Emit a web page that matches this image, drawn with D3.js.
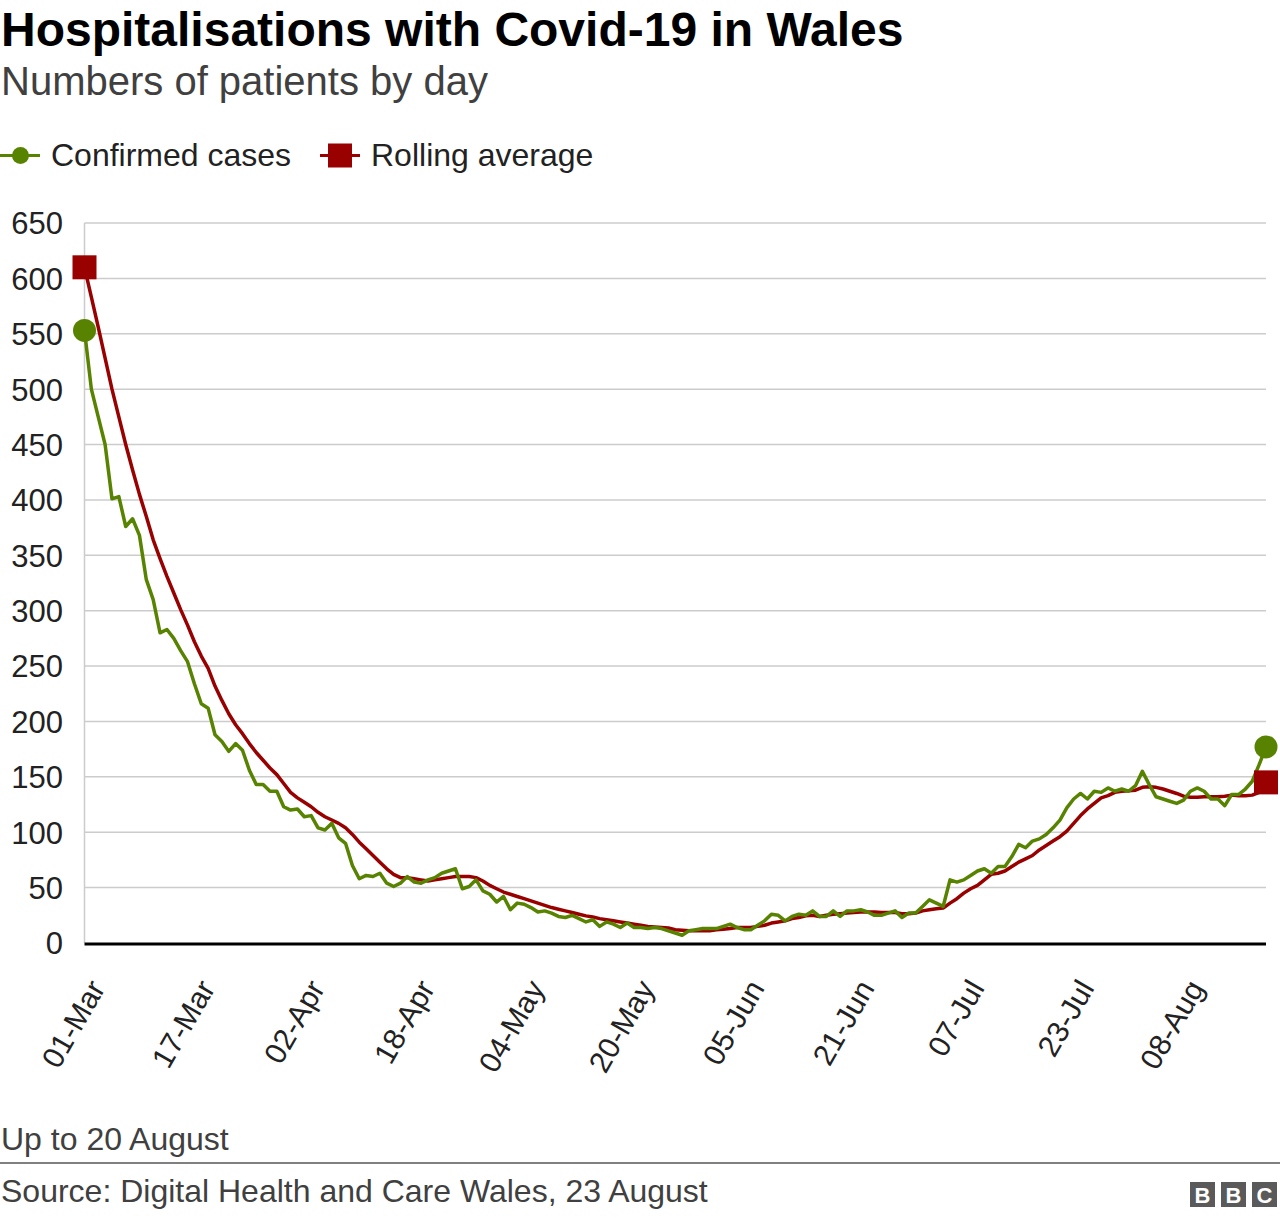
<!DOCTYPE html>
<html>
<head>
<meta charset="utf-8">
<script src="https://cdn.jsdelivr.net/npm/d3@7"></script>
<style>
  html, body { margin: 0; padding: 0; background: #fff; }
  svg { display: block; font-family: "Liberation Sans", Arial, Helvetica, sans-serif; }
</style>
</head>
<body>
<svg id="chart" width="1280" height="1218"></svg>
<script>
const startDate = "2020-03-01";
const endDate = "2020-08-20";

const confirmed = [
  553, 500, 475, 450, 401, 403, 376, 383, 368, 328,
  310, 280, 283, 275, 264, 254, 234, 216, 212, 188,
  182, 173, 180, 174, 156, 143, 143, 137, 137, 123,
  120, 121, 114, 115, 104, 102, 108, 95, 90, 70,
  58, 61, 60, 63, 54, 51, 54, 60, 55, 54,
  57, 59, 63, 65, 67, 49, 51, 57, 47, 44,
  37, 42, 30, 36, 35, 32, 28, 29, 27, 24,
  23, 25, 22, 19, 21, 15, 19, 17, 14, 18,
  14, 14, 13, 14, 13, 11, 9, 7, 11, 12,
  13, 13, 13, 15, 17, 14, 12, 12, 16, 20,
  26, 25, 20, 24, 26, 25, 29, 24, 24, 29,
  24, 29, 29, 30, 28, 25, 25, 27, 29, 23,
  27, 27, 33, 39, 36, 33, 57, 55, 57, 61,
  65, 67, 63, 69, 69, 78, 89, 86, 92, 94,
  98, 104, 111, 122, 130, 135, 130, 137, 136, 140,
  137, 139, 137, 142, 155, 143, 132, 130, 128, 126,
  129, 137, 140, 137, 130, 130, 124, 134, 134, 139,
  146, 161, 177
];

const rolling = [
  610, 583, 556, 528, 500, 475, 450, 427, 405, 385,
  364, 347, 331, 316, 301, 287, 272, 259, 248, 232,
  219, 207, 197, 189, 180, 172, 165, 158, 152, 144,
  136, 131, 127, 123, 118, 114, 111, 108, 104, 98,
  91, 85, 79, 73, 67, 62, 59, 59, 58, 57,
  56, 57, 58, 59, 60, 60, 60, 59, 56, 52,
  49, 46, 44, 42, 40, 38, 36, 34, 32, 30.5,
  29, 27.5, 26, 24.5, 23.5, 22, 21, 20, 19, 18,
  17, 16, 15, 14.5, 14, 13.5, 12, 11.5, 11, 11,
  11, 11, 12, 12.5, 13, 14, 14, 14, 15, 16,
  18, 19, 20, 22, 23, 24.5, 25, 24, 25, 26,
  26.5, 27, 27.5, 28, 28, 28, 27.5, 27.5, 27.5, 26.5,
  26.5, 27, 29, 30, 31, 31.5, 36, 40, 45, 49,
  52, 57, 62, 63, 65, 69, 73, 76, 79, 84,
  88, 92, 96, 101, 108, 115, 121, 126, 131, 133,
  136, 137, 137.5, 138, 140.5, 141, 140.5, 139, 137, 135,
  132.5, 131.5, 131.5, 132, 132, 132, 132.5, 133.5, 133, 133,
  133.5, 136, 145
];

const xTickLabels = ["01-Mar", "17-Mar", "02-Apr", "18-Apr", "04-May", "20-May",
                     "05-Jun", "21-Jun", "07-Jul", "23-Jul", "08-Aug"];
const yTickValues = [0, 50, 100, 150, 200, 250, 300, 350, 400, 450, 500, 550, 600, 650];

const seriesNames = ["Confirmed cases", "Rolling average"];
const colors = { green: "#588300", red: "#990000" };

const parseISO = d3.timeParse("%Y-%m-%d");
const parseTick = d3.timeParse("%d-%b-%Y");
const start = parseISO(startDate);
const end = parseISO(endDate);
const dates = confirmed.map((_, i) => d3.timeDay.offset(start, i));

const svg = d3.select("#chart");

// Titles
svg.append("text").attr("x", 1).attr("y", 46)
  .attr("font-size", 48).attr("font-weight", "bold").attr("fill", "#000")
  .text("Hospitalisations with Covid-19 in Wales");
svg.append("text").attr("x", 1).attr("y", 95)
  .attr("font-size", 40).attr("fill", "#404040")
  .text("Numbers of patients by day");

// Legend
const lg = svg.append("g");
lg.append("line").attr("x1", 0).attr("x2", 40).attr("y1", 155.5).attr("y2", 155.5)
  .attr("stroke", colors.green).attr("stroke-width", 3);
lg.append("circle").attr("cx", 20.5).attr("cy", 155.5).attr("r", 8.5).attr("fill", colors.green);
lg.append("text").attr("x", 51).attr("y", 166).attr("font-size", 32).attr("fill", "#222")
  .text(seriesNames[0]);
lg.append("line").attr("x1", 320).attr("x2", 360).attr("y1", 155.5).attr("y2", 155.5)
  .attr("stroke", colors.red).attr("stroke-width", 3);
lg.append("rect").attr("x", 328).attr("y", 143.5).attr("width", 24).attr("height", 24).attr("fill", colors.red);
lg.append("text").attr("x", 371).attr("y", 166).attr("font-size", 32).attr("fill", "#222")
  .text(seriesNames[1]);

// Scales
const x = d3.scaleTime().domain([start, end]).range([84.5, 1266]);
const y = d3.scaleLinear().domain([0, 650]).range([943, 223]);

// Grid
const grid = svg.append("g");
grid.selectAll("line.h").data(yTickValues.filter(v => v > 0)).join("line")
  .attr("x1", 84.5).attr("x2", 1266)
  .attr("y1", d => y(d)).attr("y2", d => y(d))
  .attr("stroke", "#cccccc").attr("stroke-width", 1.5);
grid.append("line").attr("x1", 84.5).attr("x2", 84.5).attr("y1", y(650)).attr("y2", y(0))
  .attr("stroke", "#cccccc").attr("stroke-width", 1.5);

// Y axis labels
const yAxis = d3.axisLeft(y).tickValues(yTickValues).tickSize(0).tickPadding(0);
const yg = svg.append("g").attr("transform", "translate(63,0)").call(yAxis);
yg.select(".domain").remove();
yg.selectAll("text").attr("font-size", 31).attr("fill", "#222")
  .attr("font-family", "Liberation Sans, Arial, sans-serif").attr("x", 0).attr("dy", "0.35em");

// Baseline
svg.append("line").attr("x1", 84.5).attr("x2", 1266).attr("y1", y(0) + 1).attr("y2", y(0) + 1)
  .attr("stroke", "#000").attr("stroke-width", 3);

// X labels
const tickDates = xTickLabels.map(l => parseTick(l + "-2020"));
const xAxis = d3.axisBottom(x).tickValues(tickDates).tickSize(0)
  .tickFormat((d, i) => xTickLabels[i]);
const xg = svg.append("g").attr("transform", `translate(0,${y(0)})`).call(xAxis);
xg.select(".domain").remove();
xg.selectAll(".tick text")
  .attr("font-size", 30).attr("fill", "#222")
  .attr("font-family", "Liberation Sans, Arial, sans-serif")
  .attr("text-anchor", "end").attr("dy", 0).attr("y", 0)
  .attr("transform", "translate(21,45) rotate(-60)");

// Lines
const line = (vals) => d3.line().x((d, i) => x(dates[i])).y(d => y(d))(vals);
svg.append("path").attr("d", line(rolling)).attr("fill", "none")
  .attr("stroke", colors.red).attr("stroke-width", 3.5).attr("stroke-linejoin", "round");
svg.append("path").attr("d", line(confirmed)).attr("fill", "none")
  .attr("stroke", colors.green).attr("stroke-width", 3.5).attr("stroke-linejoin", "round");

// End markers
const last = confirmed.length - 1;
[0, last].forEach(i => {
  svg.append("rect").attr("x", x(dates[i]) - 12).attr("y", y(rolling[i]) - 12)
    .attr("width", 24).attr("height", 24).attr("fill", colors.red);
});
[0, last].forEach(i => {
  svg.append("circle").attr("cx", x(dates[i])).attr("cy", y(confirmed[i]))
    .attr("r", 11.5).attr("fill", colors.green);
});

// Footer
svg.append("text").attr("x", 1).attr("y", 1150).attr("font-size", 32).attr("fill", "#404040")
  .text("Up to 20 August");
svg.append("line").attr("x1", 0).attr("x2", 1280).attr("y1", 1163).attr("y2", 1163)
  .attr("stroke", "#808080").attr("stroke-width", 2);
svg.append("text").attr("x", 1).attr("y", 1202).attr("font-size", 32).attr("fill", "#404040")
  .text("Source: Digital Health and Care Wales, 23 August");

// BBC logo
const bbc = svg.append("g");
["B", "B", "C"].forEach((ch, i) => {
  const bx = 1190 + i * 31;
  bbc.append("rect").attr("x", bx).attr("y", 1182).attr("width", 25).attr("height", 25).attr("fill", "#5a5a5a");
  bbc.append("text").attr("x", bx + 12.5).attr("y", 1203).attr("text-anchor", "middle")
    .attr("font-size", 22).attr("font-weight", "bold").attr("fill", "#fff").text(ch);
});
</script>
</body>
</html>
